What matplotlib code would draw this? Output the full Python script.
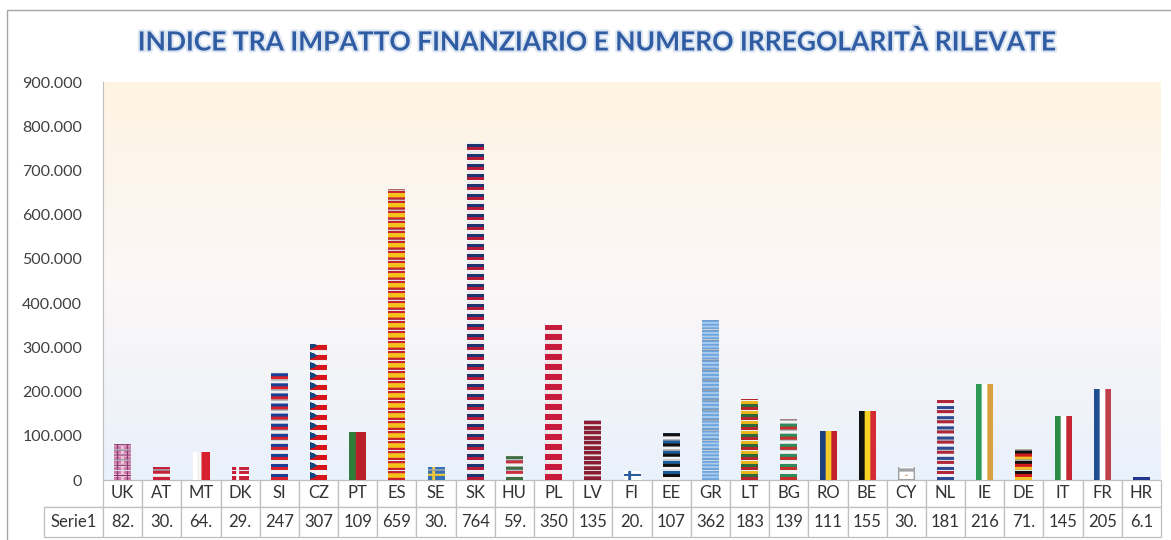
import numpy as np
import matplotlib.pyplot as plt
import matplotlib.patheffects as pe
from matplotlib.colors import to_rgba
from matplotlib.patches import Rectangle
from matplotlib.ticker import FuncFormatter, MultipleLocator

plt.rcParams['font.family'] = ['Lato', 'DejaVu Sans']

# ---- dati ----
titolo = 'INDICE TRA IMPATTO FINANZIARIO E NUMERO IRREGOLARITÀ RILEVATE'
serie = 'Serie1'
paesi = ['UK', 'AT', 'MT', 'DK', 'SI', 'CZ', 'PT', 'ES', 'SE', 'SK', 'HU', 'PL', 'LV', 'FI',
         'EE', 'GR', 'LT', 'BG', 'RO', 'BE', 'CY', 'NL', 'IE', 'DE', 'IT', 'FR', 'HR']
valori = [82000, 30000, 64000, 29000, 247000, 307000, 109000, 659000, 30000, 764000, 59000,
          350000, 135000, 20000, 107000, 362000, 183000, 139000, 111000, 155000, 30000,
          181000, 216000, 71000, 145000, 205000, 6100]

# ---- piccole bandiere (riempimento "a pila" come in Excel) ----
TILE = 22600   # altezza di una bandierina in unita' dell'asse y
COLS = 12


def rgba(c):
    return np.array(to_rgba(c))


def righe(colori, rep=3):
    img = np.zeros((len(colori) * rep, COLS, 4))
    for i, c in enumerate(colori):
        img[i * rep:(i + 1) * rep, :] = rgba(c)
    return img


def croce(sfondo, segno, cx=4, cy=4, rows=9):
    img = np.zeros((rows, COLS, 4))
    img[:, :] = rgba(sfondo)
    img[cy - 1:cy + 1, :] = rgba(segno)
    img[:, cx - 1:cx + 1] = rgba(segno)
    return img


def con_gap(img, gap=1):
    vuoto = np.zeros((gap, img.shape[1], 4))
    return np.vstack([vuoto, img])


def colonne(colori, pesi=None):
    if pesi is None:
        pesi = [1] * len(colori)
    n = np.round(np.array(pesi) / sum(pesi) * 30).astype(int)
    parti = [np.tile(rgba(c), (1, k, 1)) for c, k in zip(colori, n)]
    return np.concatenate(parti, axis=1)


def ceco():
    img = righe(['#f4f4f4', '#f4f4f4', '#d7141a', '#d7141a'], rep=2)
    img = np.vstack([img, img[-1:]])
    for r in range(img.shape[0]):
        k = int(round(5 - abs(r - 4) * 1.2))
        img[r, :max(k, 0)] = rgba('#11457e')
    return img


def uk():
    img = np.zeros((9, COLS, 4))
    img[:, :] = rgba('#d27fae')
    img[3:6, :] = rgba('#eec6dc')
    img[:, 5:7] = rgba('#eec6dc')
    img[4, :] = rgba('#7c2c64')
    img[:, [2, 9]] = rgba('#8e3a73')
    return img


def cipro():
    img = np.zeros((9, COLS, 4))
    img[:, :] = rgba('white')
    img[[0, -1], :] = rgba('#a0a0a0')
    img[:, [0, -1]] = rgba('#a0a0a0')
    img[4, 5:7] = rgba('#e0a060')
    return img


bandiere = {
    'UK': ('t', uk()),
    'AT': ('t', righe(['#c8203a', '#f2f2f2', '#c8203a'])),
    'MT': ('v', colonne(['white', '#f4f4f4', '#d71f2e', '#d71f2e'])),
    'DK': ('t', croce('#c8203a', 'white')),
    'SI': ('t', righe(['#eeeeee', '#1c3f96', '#d8202c'])),
    'CZ': ('t', ceco()),
    'PT': ('v', colonne(['#2f7d3a', '#b9202a'], [2, 3])),
    'ES': ('t', righe(['#c8202f', '#f6c21c', '#f6c21c', '#c8202f'], rep=2)),
    'SE': ('t', croce('#3670b5', '#f0c93a')),
    'SK': ('t', righe(['#eeeeee', '#1d3470', '#b81c3a'])),
    'HU': ('t', righe(['#c8303f', '#f2f2f2', '#3f6e45'])),
    'PL': ('t', righe(['#f2e8ea', '#c81a3c', '#c81a3c'])),
    'LV': ('t', righe(['#8a1c33', '#8a1c33', '#e8e0e0', '#8a1c33', '#8a1c33'], rep=2)),
    'FI': ('t', croce('white', '#2a5d9e')),
    'EE': ('t', righe(['#1c5c99', '#111111', '#f2f2f2'])),
    'GR': ('t', righe(['#6ea4dc', '#a9cbef', '#6ea4dc', '#a9cbef', '#6ea4dc'], rep=2)),
    'LT': ('t', righe(['#e8b71c', '#2e6b3a', '#b9242d'])),
    'BG': ('t', righe(['#f2f2f2', '#2f8a5d', '#c7302a'])),
    'RO': ('v', colonne(['#1e3f7e', '#f4c92a', '#c4202c'])),
    'BE': ('v', colonne(['#111111', '#f6d324', '#d52b35'])),
    'CY': ('t', cipro()),
    'NL': ('t', righe(['#b02539', '#f2f2f2', '#2f4a94'])),
    'IE': ('v', colonne(['#2e9a55', 'white', '#d9a13e'])),
    'DE': ('t', righe(['#111111', '#d11b1b', '#f2c12e'])),
    'IT': ('v', colonne(['#2e8b45', 'white', '#c42533'])),
    'FR': ('v', colonne(['#1f4f91', 'white', '#c0404b'])),
    'HR': ('t', righe(['#c8202f', 'white', '#24378f'])),
}

W, H = 1171, 540
fig = plt.figure(figsize=(W / 100, H / 100), dpi=100)
ax = fig.add_axes([103 / W, 1 - 480 / H, (1161 - 103) / W, (480 - 82) / H])

# sfondo sfumato dell'area del tracciato
top = np.array([254, 244, 227]) / 255
mid = np.array([252, 247, 247]) / 255
bot = np.array([233, 241, 251]) / 255
t = np.linspace(0, 1, 200)[:, None]
grad = np.where(t < 0.5, top + (mid - top) * (t / 0.5), mid + (bot - mid) * ((t - 0.5) / 0.5))
ax.imshow(grad[:, None, :], extent=[0, 1, 0, 1], transform=ax.transAxes,
          aspect='auto', origin='upper', zorder=0)

x = np.arange(len(paesi))
barre = ax.bar(x, valori, width=0.43, color='none', edgecolor='none', zorder=2)

for rect, code in zip(barre, paesi):
    tipo, img = bandiere[code]
    x0, w, h = rect.get_x(), rect.get_width(), rect.get_height()
    if tipo == 'v':
        im = ax.imshow(img, extent=[x0, x0 + w, 0, h], aspect='auto', zorder=3)
    else:
        tile = con_gap(img)
        n = int(np.ceil(h / TILE))
        im = ax.imshow(np.vstack([tile] * n), extent=[x0, x0 + w, 0, n * TILE],
                       origin='upper', aspect='auto', zorder=3)
    im.set_clip_path(rect)

ax.set_xlim(-0.5, len(paesi) - 0.5)
ax.set_ylim(0, 900000)
ax.yaxis.set_major_locator(MultipleLocator(100000))
ax.yaxis.set_major_formatter(FuncFormatter(lambda v, _: f'{v:,.0f}'.replace(',', '.')))
ax.tick_params(axis='y', length=0, pad=15, labelsize=11.5, labelcolor='#404040')
ax.set_xticks([])
for s in ['top', 'right', 'bottom']:
    ax.spines[s].set_visible(False)
ax.spines['left'].set_color('#bfbfbf')

# tabella dati sotto l'asse
testi = [f'{v:,.0f}'.replace(',', '.')[:3] for v in valori]
celle = [[''] + paesi, [serie] + testi]
x_tab = (44 - 103) / (1161 - 103)
h_tab = (537 - 480) / (480 - 82)
tab = ax.table(cellText=celle, colWidths=[59] + [39.2] * len(paesi), cellLoc='center',
               bbox=[x_tab, -h_tab, 1 - x_tab, h_tab])
tab.auto_set_font_size(False)
tab.set_fontsize(12)
for (r, c), cell in tab.get_celld().items():
    cell.set_edgecolor('#bfbfbf')
    cell.set_linewidth(0.9)
    cell.set_facecolor('white')
    cell.get_text().set_color('#333333')
    cell.set_height(27 if r == 0 else 30)
tab.get_celld()[(0, 0)].visible_edges = 'B'

fig.text(596 / W, 1 - 42 / H, titolo, ha='center', va='center', fontsize=19,
         fontweight='bold', color='#2f5ca3',
         path_effects=[pe.withStroke(linewidth=3, foreground='#dce6f3')])

fig.add_artist(Rectangle((7 / W, -0.05), 1.2, 1.05 - 10 / H, transform=fig.transFigure,
                         fill=False, edgecolor='#a6a6a6', linewidth=1))

fig.savefig('out.png', dpi=100)
